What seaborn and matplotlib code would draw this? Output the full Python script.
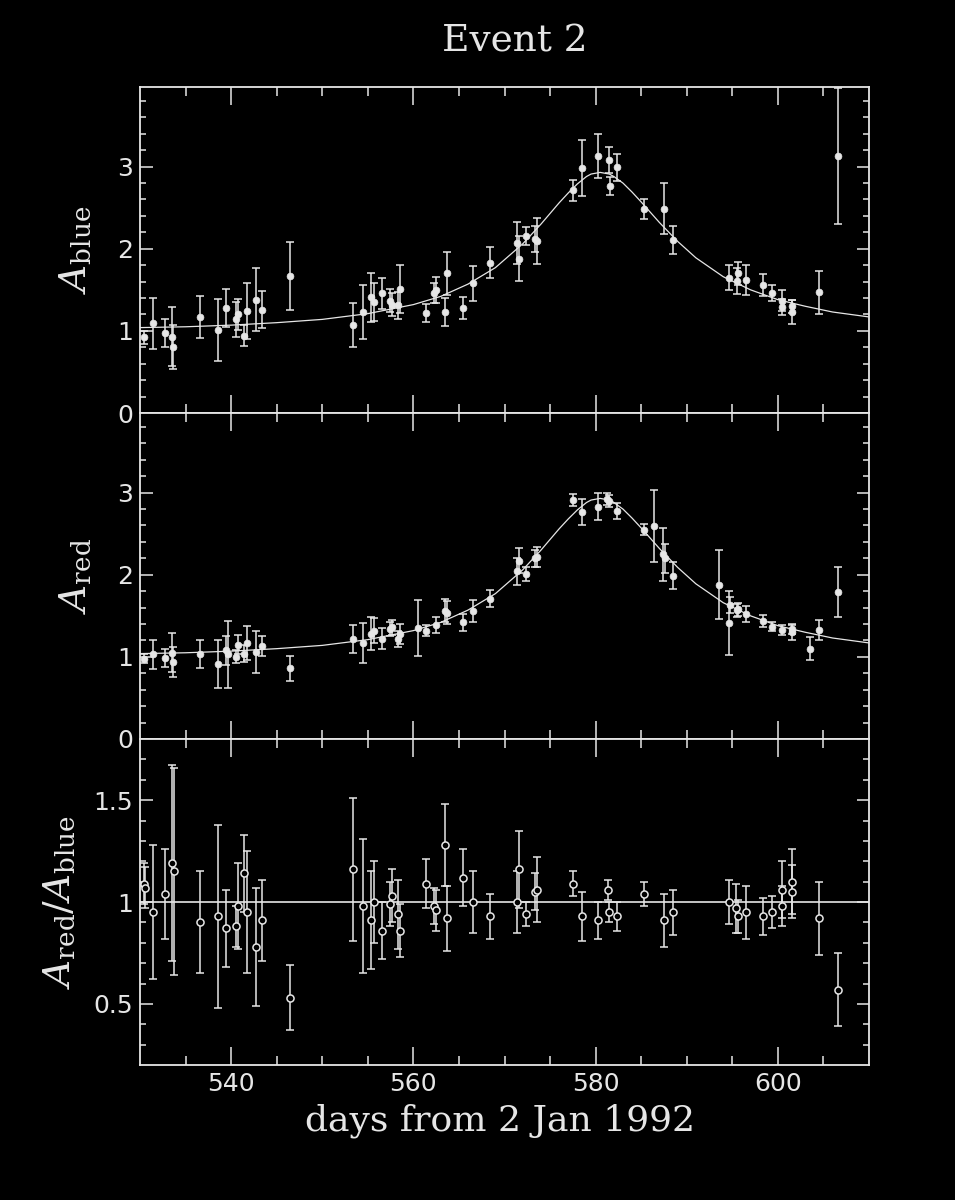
import numpy as np
import pandas as pd
import matplotlib
matplotlib.use("Agg")
import matplotlib.pyplot as plt
import seaborn as sns
from matplotlib.ticker import FixedLocator, FuncFormatter

# ---------------- data ----------------
days_blue = [530.4, 531.4, 532.7, 533.5, 533.6, 536.6, 538.6, 539.4, 540.5, 540.7,
             541.4, 541.7, 542.7, 543.4, 546.5, 553.4, 554.5, 555.4, 555.7, 556.6,
             557.4, 557.6, 558.3, 558.5, 561.4, 562.3, 562.5, 563.5, 563.7, 565.5,
             566.5, 568.4, 571.4, 571.6, 572.4, 573.4, 573.6, 577.5, 578.5, 580.3,
             581.5, 581.6, 582.4, 585.3, 587.5, 588.5, 594.6, 595.5, 595.6, 596.5,
             598.4, 599.4, 600.4, 600.5, 601.5, 601.6, 604.5, 606.6]
a_blue = [0.92, 1.09, 0.97, 0.93, 0.80, 1.17, 1.01, 1.28, 1.14, 1.20,
          0.94, 1.24, 1.38, 1.26, 1.67, 1.07, 1.23, 1.41, 1.35, 1.46,
          1.37, 1.32, 1.31, 1.51, 1.22, 1.46, 1.50, 1.23, 1.70, 1.28,
          1.58, 1.83, 2.07, 1.88, 2.15, 2.12, 2.10, 2.71, 2.98, 3.13,
          3.08, 2.77, 2.99, 2.48, 2.49, 2.11, 1.65, 1.61, 1.70, 1.62,
          1.56, 1.46, 1.37, 1.29, 1.23, 1.30, 1.47, 3.13]
e_blue = [0.08, 0.31, 0.17, 0.36, 0.27, 0.26, 0.38, 0.23, 0.21, 0.19,
          0.13, 0.34, 0.38, 0.23, 0.41, 0.27, 0.33, 0.30, 0.23, 0.19,
          0.14, 0.14, 0.16, 0.29, 0.11, 0.12, 0.16, 0.17, 0.26, 0.13,
          0.21, 0.19, 0.26, 0.27, 0.11, 0.16, 0.28, 0.13, 0.34, 0.27,
          0.16, 0.11, 0.17, 0.12, 0.31, 0.17, 0.15, 0.16, 0.14, 0.18,
          0.13, 0.10, 0.13, 0.10, 0.15, 0.08, 0.26, 0.83]

days_red = [530.4, 531.4, 532.7, 533.5, 533.6, 536.6, 538.6, 539.4, 539.7, 540.5,
            540.7, 541.4, 541.7, 542.7, 543.4, 546.5, 553.4, 554.5, 555.4, 555.7,
            556.6, 557.4, 557.6, 558.3, 558.5, 560.5, 561.4, 562.5, 563.5, 563.7,
            565.5, 566.5, 568.4, 571.4, 571.6, 572.4, 573.4, 573.6, 577.5, 578.5,
            580.3, 581.3, 581.5, 582.4, 585.3, 586.4, 587.4, 587.6, 588.5, 593.5,
            594.6, 594.7, 595.5, 595.6, 596.5, 598.4, 599.4, 600.4, 601.5, 601.6,
            603.5, 604.5, 606.6]
a_red = [0.98, 1.03, 0.99, 1.05, 0.94, 1.04, 0.91, 1.08, 1.03, 1.00,
         1.15, 1.04, 1.17, 1.06, 1.13, 0.86, 1.22, 1.17, 1.28, 1.32,
         1.22, 1.34, 1.36, 1.22, 1.28, 1.35, 1.32, 1.39, 1.56, 1.54,
         1.42, 1.56, 1.71, 2.04, 2.17, 2.01, 2.20, 2.22, 2.91, 2.76,
         2.83, 2.92, 2.90, 2.78, 2.55, 2.59, 2.25, 2.20, 1.99, 1.88,
         1.41, 1.63, 1.57, 1.58, 1.52, 1.44, 1.37, 1.33, 1.30, 1.34,
         1.10, 1.33, 1.79]
e_red = [0.05, 0.18, 0.11, 0.24, 0.18, 0.17, 0.29, 0.18, 0.41, 0.08,
         0.12, 0.10, 0.21, 0.26, 0.12, 0.15, 0.17, 0.24, 0.20, 0.15,
         0.13, 0.09, 0.09, 0.10, 0.12, 0.34, 0.07, 0.10, 0.14, 0.14,
         0.10, 0.13, 0.10, 0.16, 0.15, 0.09, 0.10, 0.12, 0.07, 0.16,
         0.16, 0.07, 0.07, 0.10, 0.07, 0.44, 0.32, 0.18, 0.16, 0.42,
         0.39, 0.10, 0.08, 0.08, 0.10, 0.07, 0.06, 0.06, 0.09, 0.06,
         0.14, 0.12, 0.30]

days_ratio = [530.4, 530.5, 531.4, 532.7, 533.5, 533.7, 536.6, 538.6, 539.4, 540.5,
              540.7, 541.4, 541.7, 542.7, 543.4, 546.5, 553.4, 554.5, 555.4, 555.7,
              556.6, 557.4, 557.7, 558.3, 558.5, 561.4, 562.3, 562.5, 563.5, 563.7,
              565.5, 566.5, 568.4, 571.4, 571.6, 572.4, 573.4, 573.6, 577.5, 578.5,
              580.3, 581.4, 581.5, 582.4, 585.3, 587.5, 588.5, 594.6, 595.4, 595.6,
              596.5, 598.4, 599.4, 600.4, 600.5, 601.5, 601.6, 604.5, 606.6]
ratio = [1.09, 1.07, 0.95, 1.04, 1.19, 1.15, 0.90, 0.93, 0.87, 0.88,
         0.98, 1.14, 0.95, 0.78, 0.91, 0.53, 1.16, 0.98, 0.91, 1.00,
         0.86, 0.99, 1.03, 0.94, 0.86, 1.09, 0.98, 0.96, 1.28, 0.92,
         1.12, 1.00, 0.93, 1.00, 1.16, 0.94, 1.05, 1.06, 1.09, 0.93,
         0.91, 1.06, 0.95, 0.93, 1.04, 0.91, 0.95, 1.00, 0.97, 0.93,
         0.95, 0.93, 0.95, 0.98, 1.06, 1.10, 1.05, 0.92, 0.57]
e_ratio = [0.10, 0.10, 0.33, 0.22, 0.48, 0.51, 0.25, 0.45, 0.19, 0.10,
           0.21, 0.19, 0.30, 0.29, 0.20, 0.16, 0.35, 0.33, 0.24, 0.20,
           0.14, 0.11, 0.13, 0.17, 0.13, 0.12, 0.09, 0.10, 0.20, 0.16,
           0.14, 0.15, 0.11, 0.15, 0.19, 0.06, 0.09, 0.16, 0.06, 0.12,
           0.09, 0.05, 0.05, 0.07, 0.06, 0.13, 0.11, 0.11, 0.12, 0.08,
           0.13, 0.09, 0.08, 0.10, 0.14, 0.16, 0.13, 0.18, 0.18]

# fitted light curve
curve_days = [530, 535, 540, 545, 550, 555, 560, 563, 566, 569, 572, 574, 576, 577,
              578, 579, 579.5, 580.5, 581.5, 582, 583, 584, 585, 587, 589, 591, 594,
              597, 600, 603, 606, 610]
curve_vals = [1.04, 1.05, 1.07, 1.10, 1.14, 1.21, 1.32, 1.42, 1.57, 1.77, 2.06, 2.30, 2.56, 2.68,
              2.79, 2.88, 2.91, 2.93, 2.91, 2.88, 2.80, 2.69, 2.57, 2.32, 2.09, 1.89, 1.66,
              1.50, 1.38, 1.30, 1.23, 1.17]

x_major = [540, 560, 580, 600]
x_minor = [535, 545, 550, 555, 565, 570, 575, 585, 590, 595, 605]

# ---------------- style ----------------
FG = "#e6e6e6"
sns.set_theme(style="ticks", rc={
    "figure.facecolor": "black", "axes.facecolor": "black",
    "axes.edgecolor": FG, "axes.linewidth": 1.3,
    "xtick.color": FG, "ytick.color": FG,
    "text.color": FG, "axes.labelcolor": FG,
    "xtick.direction": "in", "ytick.direction": "in",
    "mathtext.fontset": "dejavuserif",
})
plt.rcParams["font.family"] = ["DejaVu Sans"]

fig = plt.figure(figsize=(9.55, 12), dpi=100)
L, W, H = 140 / 955, 729 / 955, 326 / 1200
ax_top = fig.add_axes([L, 1 - 413 / 1200, W, H])
ax_mid = fig.add_axes([L, 1 - 739 / 1200, W, H])
ax_bot = fig.add_axes([L, 1 - 1065 / 1200, W, H])

df_curve = pd.DataFrame({"day": curve_days, "A": curve_vals})


def draw_panel(ax, days, vals, errs, open_marker=False):
    ax.errorbar(days, vals, yerr=errs, fmt="none", ecolor=FG, elinewidth=1.1,
                capsize=3.2, capthick=1.1, zorder=2)
    df = pd.DataFrame({"day": days, "v": vals})
    if open_marker:
        sns.scatterplot(data=df, x="day", y="v", ax=ax, s=26, marker="o",
                        facecolor="black", edgecolor=FG, linewidth=1.1, zorder=3)
    else:
        sns.scatterplot(data=df, x="day", y="v", ax=ax, s=24, marker="o",
                        color=FG, edgecolor=FG, linewidth=0.5, zorder=3)


for ax in (ax_top, ax_mid):
    sns.lineplot(data=df_curve, x="day", y="A", ax=ax, color=FG, lw=0.9,
                 zorder=1, estimator=None)

draw_panel(ax_top, days_blue, a_blue, e_blue)
draw_panel(ax_mid, days_red, a_red, e_red)
ax_bot.axhline(1.0, color=FG, lw=1.2, zorder=1)
draw_panel(ax_bot, days_ratio, ratio, e_ratio, open_marker=True)

for ax in (ax_top, ax_mid, ax_bot):
    ax.set_xlim(530, 610)
    ax.xaxis.set_major_locator(FixedLocator(x_major))
    ax.xaxis.set_minor_locator(FixedLocator(x_minor))
    ax.tick_params(axis="x", which="major", length=13, width=1.1, top=True, bottom=True)
    ax.tick_params(axis="x", which="minor", length=6.5, width=1.1, top=True, bottom=True)
    ax.tick_params(axis="y", which="major", length=9, width=1.1, left=True, right=True,
                   labelsize=18, pad=5)
    ax.tick_params(axis="y", which="minor", length=4.5, width=1.1, left=True, right=True)
    ax.set_xlabel("")
    for s in ax.spines.values():
        s.set_visible(True)
        s.set_color(FG)

for ax in (ax_top, ax_mid):
    ax.set_ylim(0, 3.97)
    ax.yaxis.set_major_locator(FixedLocator([0, 1, 2, 3]))
    ax.yaxis.set_minor_locator(FixedLocator([round(0.2 * i, 1) for i in range(1, 20) if i % 5]))
    ax.tick_params(axis="x", labelbottom=False)

ax_bot.set_ylim(0.2, 1.8)
ax_bot.yaxis.set_major_locator(FixedLocator([0.5, 1.0, 1.5]))
ax_bot.yaxis.set_minor_locator(FixedLocator([0.3, 0.4, 0.6, 0.7, 0.8, 0.9, 1.1, 1.2, 1.3, 1.4, 1.6, 1.7]))
ax_bot.yaxis.set_major_formatter(FuncFormatter(lambda v, p: f"{v:g}"))
ax_bot.tick_params(axis="x", labelsize=18, pad=5)

lab_kw = dict(fontsize=27, rotation=90, va="center", ha="center")
ax_top.set_ylabel(r"$A_{\rm blue}$", **lab_kw)
ax_mid.set_ylabel(r"$A_{\rm red}$", **lab_kw)
ax_bot.set_ylabel(r"$A_{\rm red}/A_{\rm blue}$", **lab_kw)
ax_top.yaxis.set_label_coords(-0.088, 0.5)
ax_mid.yaxis.set_label_coords(-0.088, 0.5)
ax_bot.yaxis.set_label_coords(-0.11, 0.5)

fig.text(515 / 955, 1 - 42 / 1200, "Event 2", ha="center", va="center",
         fontsize=27, family="DejaVu Serif", color=FG)
fig.text(500 / 955, 1 - 1121 / 1200, "days from 2 Jan 1992", ha="center", va="center",
         fontsize=26, family="DejaVu Serif", color=FG)

fig.savefig("out.png", dpi=100, facecolor="black")
